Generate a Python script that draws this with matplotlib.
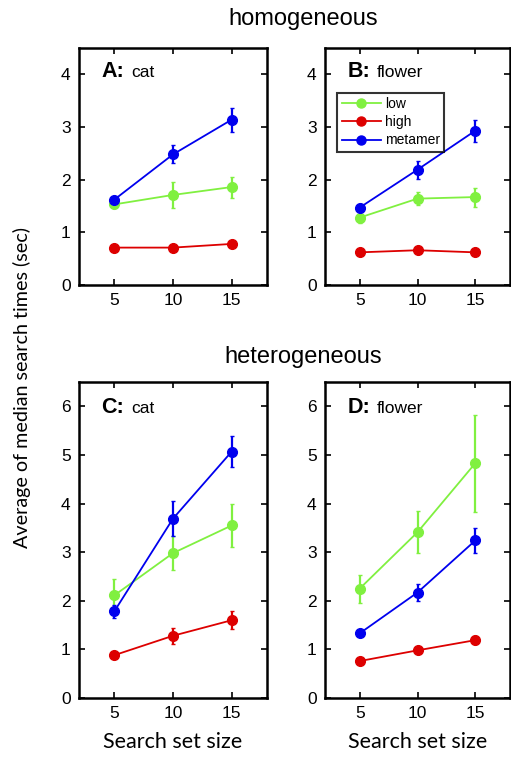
import matplotlib
matplotlib.use("Agg")
import matplotlib.pyplot as plt
from matplotlib.lines import Line2D

set_size = [5, 10, 15]

# homogeneous
a_low = [1.53, 1.71, 1.86]
a_low_err = [0.07, 0.24, 0.20]
a_high = [0.71, 0.71, 0.78]
a_high_err = [0.03, 0.03, 0.03]
a_meta = [1.62, 2.48, 3.14]
a_meta_err = [0.05, 0.17, 0.23]

b_low = [1.28, 1.64, 1.67]
b_low_err = [0.10, 0.13, 0.18]
b_high = [0.62, 0.66, 0.62]
b_high_err = [0.03, 0.03, 0.03]
b_meta = [1.47, 2.19, 2.93]
b_meta_err = [0.07, 0.17, 0.21]

# heterogeneous
c_low = [2.11, 2.98, 3.55]
c_low_err = [0.33, 0.35, 0.44]
c_high = [0.88, 1.28, 1.60]
c_high_err = [0.05, 0.17, 0.19]
c_meta = [1.78, 3.69, 5.07]
c_meta_err = [0.13, 0.36, 0.32]

d_low = [2.25, 3.41, 4.83]
d_low_err = [0.29, 0.43, 1.00]
d_high = [0.76, 0.98, 1.19]
d_high_err = [0.04, 0.05, 0.08]
d_meta = [1.33, 2.17, 3.24]
d_meta_err = [0.05, 0.18, 0.25]

series_names = ["low", "high", "metamer"]
colors = ["#80f040", "#dd0000", "#0000ee"]

panels = [
    ("A:", "cat", [a_low, a_high, a_meta], [a_low_err, a_high_err, a_meta_err]),
    ("B:", "flower", [b_low, b_high, b_meta], [b_low_err, b_high_err, b_meta_err]),
    ("C:", "cat", [c_low, c_high, c_meta], [c_low_err, c_high_err, c_meta_err]),
    ("D:", "flower", [d_low, d_high, d_meta], [d_low_err, d_high_err, d_meta_err]),
]

W, H = 511, 758
fig = plt.figure(figsize=(W / 100, H / 100), dpi=100)

# pixel boxes: left, top, right, bottom
boxes = [(79, 48, 267, 285), (325, 48, 510, 285),
         (79, 382, 267, 698), (325, 382, 510, 698)]

axes = []
for i, (lab, name, vals, errs) in enumerate(panels):
    l, t, r, b = boxes[i]
    ax = fig.add_axes([l / W, 1 - b / H, (r - l) / W, (b - t) / H])
    axes.append(ax)
    for v, e, c in zip(vals, errs, colors):
        ax.errorbar(set_size, v, yerr=e, color=c, marker="o", markersize=7,
                    lw=1.3, elinewidth=1.6, capsize=1.5)
    ax.set_xlim(2, 18)
    ax.set_xticks(set_size)
    if i < 2:
        ax.set_ylim(0, 4.5)
        ax.set_yticks(range(0, 5))
        ty = 0.9
    else:
        ax.set_ylim(0, 6.5)
        ax.set_yticks(range(0, 7))
        ty = 0.92
    ax.tick_params(direction="in", top=True, right=True, length=4, width=1.2,
                   labelsize=12.5, pad=6)
    for lbl in ax.get_xticklabels() + ax.get_yticklabels():
        lbl.set_family("Liberation Sans")
    for s in ax.spines.values():
        s.set_linewidth(1.8)
    ax.text(0.12, ty, lab, transform=ax.transAxes, fontsize=15.5,
            fontweight="bold", family="Liberation Sans", va="center", ha="left")
    ax.text(0.28, ty - 0.005, name, transform=ax.transAxes,
            fontsize=12.5, family="Liberation Sans", va="center", ha="left")
    if i >= 2:
        ax.set_xlabel("Search set size", fontsize=15.5, family="Lato", labelpad=8)

handles = [Line2D([], [], color=c, marker="o", markersize=6.5, lw=1.3)
           for c in colors]
leg = axes[1].legend(handles, series_names, loc="upper left",
                     bbox_to_anchor=(0.03, 0.84), handlelength=2.8,
                     frameon=True, fancybox=False, borderpad=0.3,
                     labelspacing=0.3, handletextpad=0.3,
                     prop={"family": "Liberation Sans", "size": 10})
leg.get_frame().set_edgecolor("black")
leg.get_frame().set_linewidth(1.5)

fig.text(303 / W, 1 - 19 / H, "homogeneous", ha="center", va="center",
         fontsize=17, family="Liberation Sans")
fig.text(303 / W, 1 - 357 / H, "heterogeneous", ha="center", va="center",
         fontsize=17, family="Liberation Sans")
fig.text(22 / W, 1 - 388 / H, "Average of median search times (sec)",
         rotation=90, ha="center", va="center", fontsize=14.2, family="Lato")

fig.savefig("out.png", dpi=100)
